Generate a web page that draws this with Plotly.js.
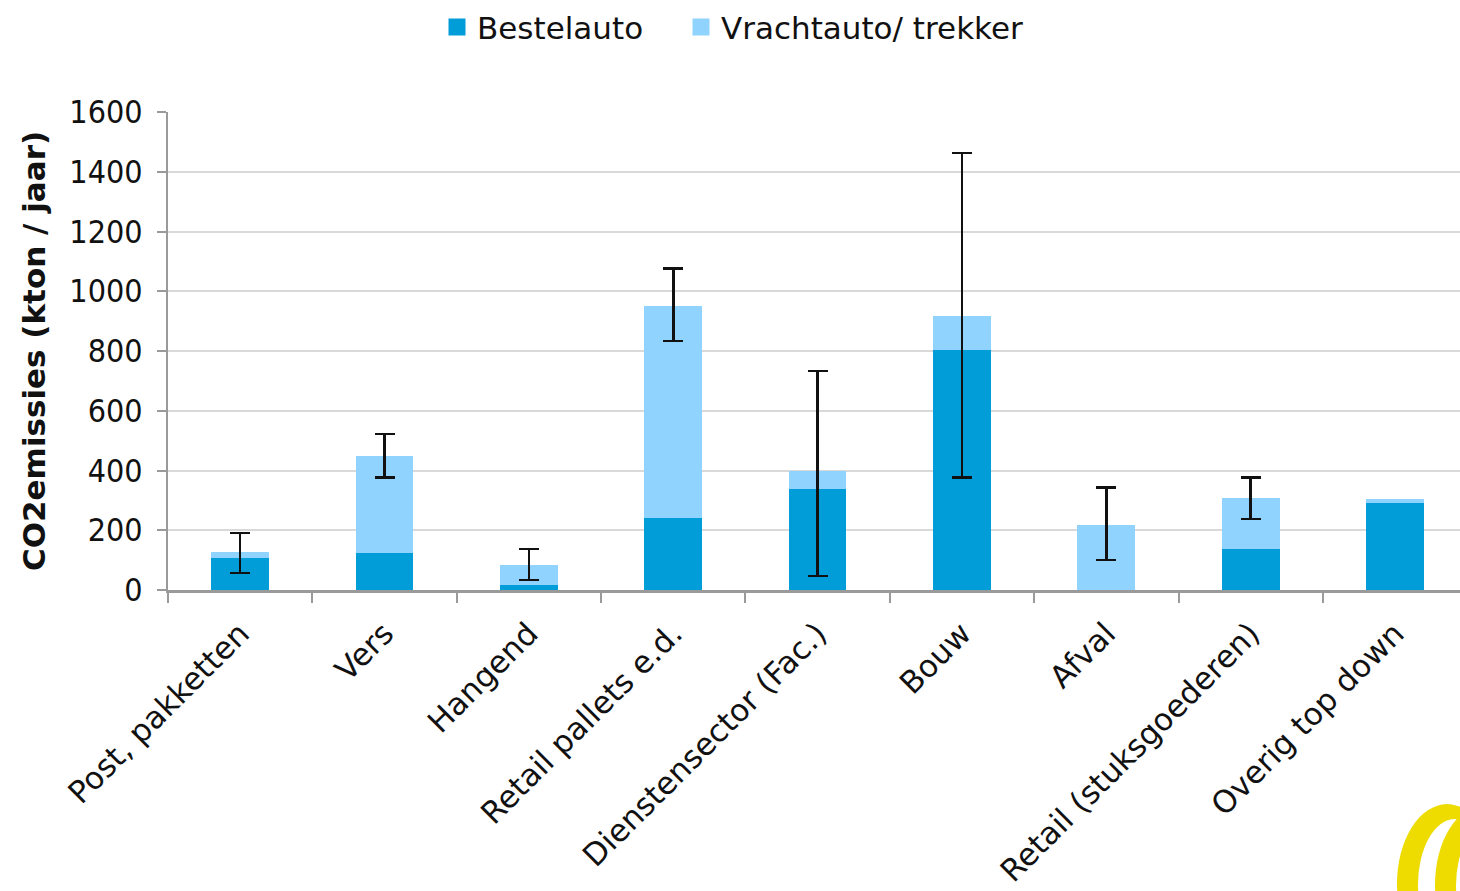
<!DOCTYPE html>
<html>
<head>
<meta charset="utf-8">
<script src="https://cdn.plot.ly/plotly-3.0.1.min.js"></script>
<style>html,body{margin:0;padding:0;background:#fff;}#chart{width:1460px;height:891px;}</style>
</head>
<body>
<div id="chart"></div>
<script>
var categories = ["Post, pakketten", "Vers", "Hangend", "Retail pallets e.d.", "Dienstensector (Fac.)", "Bouw", "Afval", "Retail (stuksgoederen)", "Overig top down"];
var bestelauto = [107, 123, 17, 240, 337, 803, 0, 137, 291];
var vrachtauto = [20, 327, 66, 710, 60, 114, 217, 170, 15];
var errHigh = [190, 523, 137, 1077, 733, 1463, 343, 377, null];
var errLow  = [57, 377, 33, 833, 47, 377, 100, 237, null];
var yTicks = [0, 200, 400, 600, 800, 1000, 1200, 1400, 1600];
var seriesNames = ["Bestelauto", "Vrachtauto/ trekker"];
var seriesColors = ["#009DD9", "#8FD3FE"];

var totals = bestelauto.map(function(v, i){ return v + vrachtauto[i]; });
var errPlus = errHigh.map(function(h, i){ return h === null ? NaN : h - totals[i]; });
var errMinus = errLow.map(function(l, i){ return l === null ? NaN : totals[i] - l; });

var FONT = "DejaVu Sans, sans-serif";
var FONT_C = "DejaVu Sans Condensed, DejaVu Sans, sans-serif";

var traces = [
  {
    type: "bar", name: seriesNames[0], x: categories, y: bestelauto,
    marker: {color: seriesColors[0]}, showlegend: false
  },
  {
    type: "bar", name: seriesNames[1], x: categories, y: vrachtauto,
    marker: {color: seriesColors[1]}, showlegend: false,
    error_y: {type: "data", symmetric: false, array: errPlus, arrayminus: errMinus,
              color: "#111111", thickness: 2.5, width: 10}
  },
  // legend entries (larger legend squares)
  {
    type: "bar", name: seriesNames[0], x: [categories[0]], y: [null],
    marker: {color: seriesColors[0], line: {color: seriesColors[0], width: 5}},
    showlegend: true, legendwidth: 199
  },
  {
    type: "bar", name: seriesNames[1], x: [categories[0]], y: [null],
    marker: {color: seriesColors[1], line: {color: seriesColors[1], width: 5}},
    showlegend: true, legendwidth: 330
  }
];

var L = 168, R = 0, T = 110, B = 301, W = 1460, H = 891;
var pw = W - L - R, ph = H - T - B;
function px(x){ return (x - L) / pw; }
function py(y){ return (H - B - y) / ph; }

var YEL = "#EEDC00";
var layout = {
  width: W, height: H,
  margin: {l: L, r: R, t: T, b: B, pad: 0},
  paper_bgcolor: "#ffffff", plot_bgcolor: "#ffffff",
  barmode: "stack", bargap: 0.6,
  font: {family: FONT, size: 30, color: "#111111"},
  showlegend: true,
  legend: {
    orientation: "h", x: px(437), xanchor: "left", y: py(-2), yanchor: "top",
    font: {family: FONT, size: 31, color: "#111111"},
    entrywidthmode: "pixels", traceorder: "normal",
    bgcolor: "rgba(0,0,0,0)"
  },
  xaxis: {
    type: "category", range: [-0.5, 8.45], fixedrange: true,
    tickangle: -45, tickson: "boundaries", ticks: "outside", ticklen: 10,
    tickwidth: 2, tickcolor: "#9a9a9a",
    showline: true, linecolor: "#9a9a9a", linewidth: 3,
    showgrid: false, zeroline: false,
    ticklabelstandoff: 10,
    tickfont: {family: FONT, size: 31, color: "#111111"}
  },
  yaxis: {
    range: [0, 1600], tickvals: yTicks, ticktext: yTicks.map(String),
    ticks: "outside", ticklen: 9, tickwidth: 2, tickcolor: "#9a9a9a",
    showline: true, linecolor: "#9a9a9a", linewidth: 2,
    showgrid: true, gridcolor: "#d9d9d9", gridwidth: 2, zeroline: false,
    tickfont: {family: FONT_C, size: 32, color: "#111111"},
    ticklabelstandoff: 8,
    title: {text: "CO2emissies (kton / jaar)", standoff: 14,
            font: {family: FONT, size: 31, color: "#111111", weight: "bold"}}
  },
  shapes: [
    {type: "circle", xref: "paper", yref: "paper", layer: "above",
     x0: px(1397), x1: px(1497), y0: py(805), y1: py(965),
     fillcolor: YEL, line: {width: 0}},
    {type: "circle", xref: "paper", yref: "paper", layer: "above",
     x0: px(1418), x1: px(1492), y0: py(820), y1: py(952),
     fillcolor: "#ffffff", line: {width: 0}},
    {type: "circle", xref: "paper", yref: "paper", layer: "above",
     x0: px(1435), x1: px(1535), y0: py(806), y1: py(966),
     fillcolor: YEL, line: {width: 0}},
    {type: "circle", xref: "paper", yref: "paper", layer: "above",
     x0: px(1456), x1: px(1530), y0: py(821), y1: py(953),
     fillcolor: "#ffffff", line: {width: 0}}
  ]
};

Plotly.newPlot("chart", traces, layout, {staticPlot: true, displayModeBar: false});
</script>
</body>
</html>
